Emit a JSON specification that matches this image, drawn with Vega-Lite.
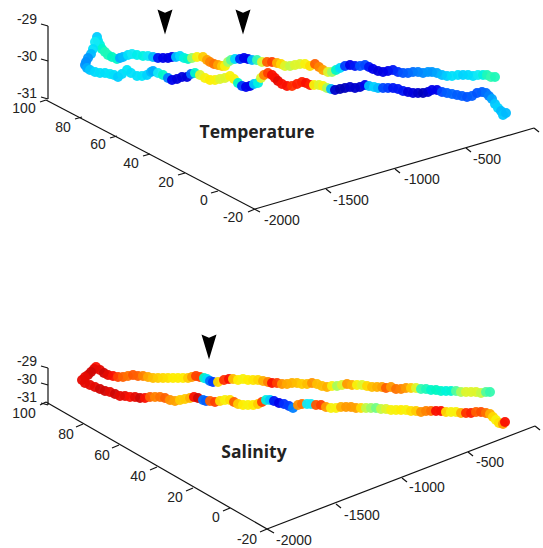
{"$schema":"https://vega.github.io/schema/vega-lite/v6.json","width":543,"height":548,"padding":0,"autosize":{"type":"fit","contains":"padding"},"background":"white","config":{"view":{"stroke":null}},
"datasets":{
"segments":[
{"a":48,"b":26,"c":48,"d":99},{"a":48,"b":26,"c":41,"d":24},{"a":48,"b":61,"c":41,"d":59},{"a":48,"b":99,"c":41,"d":97},
{"a":46,"b":100,"c":260,"d":212},{"a":46,"b":100,"c":40,"d":102},{"a":82,"b":117,"c":75,"d":119},{"a":117,"b":136,"c":110,"d":138},{"a":150,"b":154,"c":143,"d":156},{"a":185,"b":173,"c":178,"d":175},{"a":218,"b":191,"c":211,"d":193},{"a":255,"b":209,"c":248,"d":212},
{"a":255,"b":209,"c":534,"d":128},{"a":326,"b":189,"c":331,"d":193},{"a":395,"b":169,"c":400,"d":173},{"a":466,"b":148,"c":471,"d":152},{"a":534,"b":128,"c":539,"d":132},
{"a":48,"b":368,"c":48,"d":405},{"a":48,"b":368,"c":41,"d":366},{"a":48,"b":385,"c":41,"d":383},{"a":48,"b":405,"c":41,"d":403},
{"a":46,"b":402,"c":274,"d":533},{"a":46,"b":402,"c":40,"d":405},{"a":83,"b":424,"c":76,"d":427},{"a":119,"b":445,"c":112,"d":448},{"a":157,"b":467,"c":150,"d":470},{"a":193,"b":488,"c":186,"d":491},{"a":230,"b":508,"c":223,"d":511},{"a":267,"b":529,"c":260,"d":532},
{"a":267,"b":529,"c":535,"d":426},{"a":336,"b":504,"c":341,"d":508},{"a":402,"b":478,"c":407,"d":482},{"a":468,"b":452,"c":473,"d":456},{"a":535,"b":426,"c":540,"d":430}],
"labels":[
{"a":27,"b":20,"t":"-29"},{"a":27,"b":57,"t":"-30"},{"a":27,"b":94,"t":"-31"},{"a":24,"b":109,"t":"100"},{"a":63,"b":128,"t":"80"},{"a":98,"b":145,"t":"60"},{"a":131,"b":164,"t":"40"},{"a":166,"b":183,"t":"20"},{"a":204,"b":201,"t":"0"},{"a":233,"b":218,"t":"-20"},{"a":282,"b":221,"t":"-2000"},{"a":351,"b":201,"t":"-1500"},{"a":422,"b":180,"t":"-1000"},{"a":487,"b":160,"t":"-500"},
{"a":27,"b":362,"t":"-29"},{"a":27,"b":380,"t":"-30"},{"a":27,"b":398,"t":"-31"},{"a":24,"b":414,"t":"100"},{"a":66,"b":435,"t":"80"},{"a":102,"b":456,"t":"60"},{"a":138,"b":477,"t":"40"},{"a":175,"b":498,"t":"20"},{"a":216,"b":518,"t":"0"},{"a":247,"b":540,"t":"-20"},{"a":294,"b":541,"t":"-2000"},{"a":362,"b":516,"t":"-1500"},{"a":427,"b":488,"t":"-1000"},{"a":490,"b":463,"t":"-500"}],
"titles":[{"a":257,"b":133,"t":"Temperature"},{"a":254,"b":453,"t":"Salinity"}],
"arrows":[{"a":165,"b":22},{"a":243,"b":22},{"a":209,"b":347}],
"track":[{"a":97,"b":37,"v":0.33},{"a":98,"b":41,"v":0.36},{"a":100,"b":45,"v":0.42},{"a":102,"b":49,"v":0.45},{"a":105,"b":52,"v":0.47},{"a":108,"b":55,"v":0.47},{"a":112,"b":57,"v":0.46},{"a":117,"b":59,"v":0.45},{"a":120,"b":58,"v":0.28},{"a":123,"b":57,"v":0.3},{"a":128,"b":55,"v":0.36},{"a":132,"b":54,"v":0.38},{"a":137,"b":55,"v":0.4},{"a":143,"b":56,"v":0.42},{"a":148,"b":56,"v":0.38},{"a":153,"b":57,"v":0.3},{"a":158,"b":58,"v":0.13},{"a":163,"b":58,"v":0.12},{"a":168,"b":58,"v":0.11},{"a":172,"b":57,"v":0.12},{"a":176,"b":57,"v":0.3},{"a":180,"b":56,"v":0.35},{"a":184,"b":58,"v":0.42},{"a":188,"b":59,"v":0.45},{"a":192,"b":58,"v":0.55},{"a":197,"b":57,"v":0.62},{"a":203,"b":57,"v":0.68},{"a":207,"b":60,"v":0.74},{"a":210,"b":62,"v":0.78},{"a":214,"b":64,"v":0.8},{"a":218,"b":65,"v":0.74},{"a":222,"b":66,"v":0.68},{"a":225,"b":66,"v":0.62},{"a":228,"b":62,"v":0.56},{"a":231,"b":60,"v":0.5},{"a":235,"b":59,"v":0.35},{"a":240,"b":59,"v":0.14},{"a":244,"b":58,"v":0.12},{"a":248,"b":59,"v":0.12},{"a":252,"b":60,"v":0.3},{"a":257,"b":60,"v":0.48},{"a":262,"b":62,"v":0.6},{"a":267,"b":62,"v":0.82},{"a":272,"b":62,"v":0.85},{"a":277,"b":63,"v":0.72},{"a":281,"b":64,"v":0.66},{"a":285,"b":66,"v":0.6},{"a":290,"b":66,"v":0.58},{"a":295,"b":65,"v":0.6},{"a":300,"b":64,"v":0.6},{"a":305,"b":64,"v":0.62},{"a":310,"b":66,"v":0.65},{"a":315,"b":64,"v":0.82},{"a":319,"b":67,"v":0.78},{"a":323,"b":70,"v":0.74},{"a":328,"b":72,"v":0.6},{"a":332,"b":72,"v":0.55},{"a":336,"b":70,"v":0.45},{"a":340,"b":68,"v":0.35},{"a":345,"b":66,"v":0.15},{"a":350,"b":65,"v":0.12},{"a":355,"b":66,"v":0.13},{"a":360,"b":66,"v":0.17},{"a":365,"b":65,"v":0.16},{"a":369,"b":67,"v":0.13},{"a":373,"b":69,"v":0.12},{"a":378,"b":71,"v":0.1},{"a":383,"b":72,"v":0.11},{"a":388,"b":71,"v":0.12},{"a":393,"b":70,"v":0.13},{"a":398,"b":72,"v":0.14},{"a":403,"b":73,"v":0.17},{"a":408,"b":73,"v":0.18},{"a":413,"b":72,"v":0.2},{"a":418,"b":72,"v":0.22},{"a":423,"b":73,"v":0.23},{"a":428,"b":72,"v":0.25},{"a":432,"b":72,"v":0.25},{"a":437,"b":73,"v":0.27},{"a":442,"b":75,"v":0.3},{"a":447,"b":76,"v":0.33},{"a":452,"b":76,"v":0.36},{"a":458,"b":75,"v":0.36},{"a":463,"b":75,"v":0.34},{"a":468,"b":75,"v":0.35},{"a":473,"b":76,"v":0.36},{"a":478,"b":75,"v":0.38},{"a":483,"b":75,"v":0.42},{"a":487,"b":75,"v":0.47},{"a":491,"b":77,"v":0.48},{"a":495,"b":77,"v":0.47},
{"a":95,"b":42,"v":0.38},{"a":93,"b":49,"v":0.36},{"a":91,"b":54,"v":0.3},{"a":88,"b":58,"v":0.25},{"a":86,"b":62,"v":0.24},{"a":85,"b":65,"v":0.24},{"a":87,"b":68,"v":0.28},{"a":90,"b":70,"v":0.32},{"a":95,"b":72,"v":0.35},{"a":100,"b":73,"v":0.36},{"a":105,"b":73,"v":0.36},{"a":110,"b":74,"v":0.37},{"a":114,"b":75,"v":0.36},{"a":118,"b":77,"v":0.33},{"a":122,"b":74,"v":0.35},{"a":127,"b":70,"v":0.37},{"a":131,"b":73,"v":0.36},{"a":137,"b":76,"v":0.36},{"a":142,"b":76,"v":0.37},{"a":147,"b":75,"v":0.34},{"a":151,"b":72,"v":0.3},{"a":153,"b":71,"v":0.28},{"a":158,"b":73,"v":0.38},{"a":163,"b":75,"v":0.45},{"a":168,"b":78,"v":0.22},{"a":172,"b":80,"v":0.12},{"a":177,"b":79,"v":0.1},{"a":182,"b":77,"v":0.1},{"a":187,"b":77,"v":0.1},{"a":191,"b":74,"v":0.2},{"a":195,"b":73,"v":0.45},{"a":200,"b":75,"v":0.6},{"a":205,"b":78,"v":0.62},{"a":210,"b":80,"v":0.63},{"a":215,"b":80,"v":0.62},{"a":220,"b":79,"v":0.6},{"a":225,"b":78,"v":0.6},{"a":230,"b":76,"v":0.62},{"a":234,"b":79,"v":0.62},{"a":238,"b":83,"v":0.45},{"a":242,"b":86,"v":0.15},{"a":246,"b":87,"v":0.12},{"a":250,"b":86,"v":0.12},{"a":254,"b":84,"v":0.32},{"a":258,"b":83,"v":0.42},{"a":261,"b":78,"v":0.6},{"a":264,"b":75,"v":0.78},{"a":268,"b":73,"v":0.85},{"a":272,"b":75,"v":0.88},{"a":275,"b":78,"v":0.88},{"a":278,"b":81,"v":0.9},{"a":282,"b":84,"v":0.88},{"a":287,"b":86,"v":0.88},{"a":292,"b":86,"v":0.86},{"a":297,"b":84,"v":0.87},{"a":302,"b":82,"v":0.87},{"a":306,"b":83,"v":0.88},{"a":310,"b":85,"v":0.87},{"a":314,"b":85,"v":0.62},{"a":319,"b":85,"v":0.6},{"a":323,"b":86,"v":0.62},{"a":327,"b":88,"v":0.56},{"a":331,"b":89,"v":0.3},{"a":335,"b":90,"v":0.08},{"a":340,"b":89,"v":0.05},{"a":345,"b":88,"v":0.06},{"a":350,"b":87,"v":0.08},{"a":355,"b":88,"v":0.08},{"a":360,"b":87,"v":0.08},{"a":365,"b":85,"v":0.12},{"a":369,"b":86,"v":0.3},{"a":374,"b":87,"v":0.34},{"a":378,"b":88,"v":0.3},{"a":383,"b":88,"v":0.16},{"a":388,"b":88,"v":0.15},{"a":393,"b":88,"v":0.13},{"a":398,"b":89,"v":0.13},{"a":403,"b":91,"v":0.13},{"a":408,"b":92,"v":0.1},{"a":413,"b":93,"v":0.1},{"a":418,"b":93,"v":0.08},{"a":423,"b":93,"v":0.06},{"a":428,"b":92,"v":0.08},{"a":432,"b":90,"v":0.12},{"a":437,"b":90,"v":0.12},{"a":442,"b":92,"v":0.16},{"a":447,"b":93,"v":0.18},{"a":452,"b":94,"v":0.19},{"a":457,"b":95,"v":0.18},{"a":462,"b":96,"v":0.18},{"a":467,"b":97,"v":0.17},{"a":472,"b":96,"v":0.18},{"a":477,"b":93,"v":0.17},{"a":482,"b":92,"v":0.18},{"a":486,"b":93,"v":0.2},{"a":489,"b":96,"v":0.22},{"a":492,"b":99,"v":0.27},{"a":495,"b":104,"v":0.32},{"a":498,"b":108,"v":0.34},{"a":501,"b":111,"v":0.3},{"a":503,"b":115,"v":0.32},{"a":506,"b":113,"v":0.3},
{"a":96,"b":367,"v":0.88},{"a":100,"b":370,"v":0.9},{"a":104,"b":373,"v":0.92},{"a":108,"b":375,"v":0.9},{"a":113,"b":376,"v":0.88},{"a":118,"b":377,"v":0.85},{"a":123,"b":377,"v":0.82},{"a":128,"b":376,"v":0.8},{"a":133,"b":375,"v":0.83},{"a":138,"b":376,"v":0.82},{"a":143,"b":376,"v":0.78},{"a":148,"b":377,"v":0.73},{"a":153,"b":378,"v":0.7},{"a":158,"b":378,"v":0.68},{"a":163,"b":378,"v":0.66},{"a":168,"b":378,"v":0.65},{"a":173,"b":378,"v":0.63},{"a":178,"b":378,"v":0.63},{"a":183,"b":378,"v":0.63},{"a":188,"b":378,"v":0.68},{"a":192,"b":377,"v":0.75},{"a":196,"b":376,"v":0.85},{"a":200,"b":377,"v":0.85},{"a":204,"b":378,"v":0.45},{"a":207,"b":379,"v":0.36},{"a":210,"b":381,"v":0.2},{"a":213,"b":382,"v":0.15},{"a":218,"b":382,"v":0.66},{"a":224,"b":380,"v":0.86},{"a":229,"b":379,"v":0.88},{"a":233,"b":379,"v":0.7},{"a":238,"b":380,"v":0.63},{"a":243,"b":379,"v":0.62},{"a":248,"b":380,"v":0.63},{"a":253,"b":380,"v":0.64},{"a":258,"b":380,"v":0.66},{"a":263,"b":381,"v":0.72},{"a":268,"b":382,"v":0.78},{"a":272,"b":383,"v":0.88},{"a":277,"b":383,"v":0.85},{"a":282,"b":384,"v":0.76},{"a":287,"b":384,"v":0.73},{"a":292,"b":383,"v":0.72},{"a":297,"b":383,"v":0.7},{"a":302,"b":384,"v":0.68},{"a":307,"b":384,"v":0.7},{"a":312,"b":383,"v":0.76},{"a":317,"b":384,"v":0.7},{"a":322,"b":386,"v":0.7},{"a":327,"b":387,"v":0.72},{"a":332,"b":386,"v":0.62},{"a":337,"b":386,"v":0.56},{"a":342,"b":385,"v":0.6},{"a":347,"b":384,"v":0.75},{"a":352,"b":385,"v":0.72},{"a":357,"b":385,"v":0.62},{"a":362,"b":385,"v":0.6},{"a":367,"b":386,"v":0.66},{"a":372,"b":387,"v":0.7},{"a":377,"b":387,"v":0.72},{"a":382,"b":387,"v":0.74},{"a":386,"b":388,"v":0.82},{"a":391,"b":387,"v":0.75},{"a":396,"b":389,"v":0.8},{"a":401,"b":389,"v":0.78},{"a":406,"b":388,"v":0.75},{"a":411,"b":388,"v":0.68},{"a":416,"b":388,"v":0.6},{"a":421,"b":389,"v":0.48},{"a":426,"b":389,"v":0.47},{"a":431,"b":390,"v":0.45},{"a":436,"b":390,"v":0.46},{"a":441,"b":391,"v":0.45},{"a":446,"b":391,"v":0.43},{"a":451,"b":391,"v":0.44},{"a":456,"b":391,"v":0.5},{"a":461,"b":392,"v":0.56},{"a":466,"b":392,"v":0.6},{"a":471,"b":392,"v":0.6},{"a":476,"b":392,"v":0.6},{"a":481,"b":393,"v":0.58},{"a":486,"b":392,"v":0.5},{"a":490,"b":392,"v":0.48},
{"a":94,"b":369,"v":0.9},{"a":91,"b":372,"v":0.92},{"a":88,"b":375,"v":0.92},{"a":85,"b":377,"v":0.9},{"a":82,"b":380,"v":0.9},{"a":85,"b":383,"v":0.9},{"a":90,"b":385,"v":0.9},{"a":95,"b":387,"v":0.9},{"a":100,"b":389,"v":0.92},{"a":105,"b":391,"v":0.92},{"a":110,"b":392,"v":0.9},{"a":115,"b":394,"v":0.92},{"a":120,"b":396,"v":0.9},{"a":125,"b":396,"v":0.9},{"a":130,"b":397,"v":0.88},{"a":135,"b":397,"v":0.9},{"a":140,"b":398,"v":0.92},{"a":145,"b":398,"v":0.88},{"a":150,"b":397,"v":0.82},{"a":155,"b":397,"v":0.78},{"a":160,"b":397,"v":0.8},{"a":165,"b":398,"v":0.82},{"a":170,"b":400,"v":0.76},{"a":175,"b":401,"v":0.74},{"a":180,"b":400,"v":0.68},{"a":185,"b":399,"v":0.68},{"a":190,"b":398,"v":0.72},{"a":194,"b":397,"v":0.88},{"a":198,"b":398,"v":0.92},{"a":203,"b":400,"v":0.2},{"a":206,"b":401,"v":0.18},{"a":210,"b":401,"v":0.82},{"a":215,"b":402,"v":0.85},{"a":220,"b":401,"v":0.66},{"a":225,"b":400,"v":0.62},{"a":230,"b":400,"v":0.65},{"a":234,"b":402,"v":0.82},{"a":238,"b":404,"v":0.68},{"a":243,"b":405,"v":0.63},{"a":248,"b":405,"v":0.62},{"a":253,"b":405,"v":0.63},{"a":258,"b":404,"v":0.68},{"a":262,"b":402,"v":0.85},{"a":266,"b":400,"v":0.42},{"a":270,"b":400,"v":0.32},{"a":274,"b":401,"v":0.13},{"a":279,"b":403,"v":0.12},{"a":284,"b":404,"v":0.14},{"a":289,"b":406,"v":0.15},{"a":293,"b":408,"v":0.22},{"a":298,"b":405,"v":0.76},{"a":302,"b":404,"v":0.8},{"a":307,"b":404,"v":0.38},{"a":311,"b":404,"v":0.38},{"a":316,"b":405,"v":0.83},{"a":321,"b":405,"v":0.85},{"a":326,"b":407,"v":0.75},{"a":331,"b":408,"v":0.62},{"a":336,"b":408,"v":0.62},{"a":341,"b":407,"v":0.72},{"a":346,"b":407,"v":0.75},{"a":351,"b":407,"v":0.75},{"a":356,"b":408,"v":0.74},{"a":361,"b":408,"v":0.66},{"a":366,"b":408,"v":0.58},{"a":371,"b":408,"v":0.55},{"a":376,"b":408,"v":0.52},{"a":381,"b":409,"v":0.58},{"a":386,"b":409,"v":0.6},{"a":391,"b":410,"v":0.62},{"a":396,"b":410,"v":0.62},{"a":401,"b":410,"v":0.63},{"a":406,"b":410,"v":0.62},{"a":411,"b":411,"v":0.65},{"a":416,"b":411,"v":0.68},{"a":421,"b":412,"v":0.76},{"a":426,"b":411,"v":0.78},{"a":431,"b":411,"v":0.8},{"a":436,"b":411,"v":0.88},{"a":441,"b":411,"v":0.88},{"a":446,"b":412,"v":0.66},{"a":451,"b":412,"v":0.62},{"a":456,"b":412,"v":0.62},{"a":461,"b":413,"v":0.72},{"a":466,"b":413,"v":0.86},{"a":471,"b":413,"v":0.87},{"a":476,"b":412,"v":0.82},{"a":481,"b":412,"v":0.84},{"a":486,"b":413,"v":0.8},{"a":490,"b":414,"v":0.72},{"a":493,"b":417,"v":0.66},{"a":496,"b":420,"v":0.62},{"a":499,"b":423,"v":0.65},{"a":503,"b":424,"v":0.75},{"a":505,"b":422,"v":0.88}]
},
"encoding":{"x":{"field":"a","type":"quantitative","scale":{"domain":[0,543],"nice":false,"zero":false},"axis":null},"y":{"field":"b","type":"quantitative","scale":{"domain":[548,0],"nice":false,"zero":false},"axis":null}},
"layer":[
{"data":{"name":"segments"},"mark":{"type":"rule","color":"#111111","strokeWidth":1.2},"encoding":{"x2":{"field":"c"},"y2":{"field":"d"}}},
{"data":{"name":"track"},"mark":{"type":"point","filled":true,"size":100,"opacity":0.95},"encoding":{"color":{"field":"v","type":"quantitative","legend":null,"scale":{"domain":[0,0.125,0.375,0.625,0.875,1],"range":["#00008f","#0000f0","#20e8f8","#fff000","#ff1000","#800000"]}}}},
{"data":{"name":"labels"},"mark":{"type":"text","font":"Liberation Sans","fontSize":14,"color":"#222222","align":"center","baseline":"middle"},"encoding":{"text":{"field":"t"}}},
{"data":{"name":"titles"},"mark":{"type":"text","font":"Open Sans","fontWeight":"bold","fontSize":17.5,"color":"#222222","align":"center","baseline":"middle"},"encoding":{"text":{"field":"t"}}},
{"data":{"name":"arrows"},"mark":{"type":"point","filled":true,"size":625,"opacity":1,"color":"#000000","shape":"M-0.6,-1 L0,-0.75 L0.6,-1 L0,1 Z"}}
]}
